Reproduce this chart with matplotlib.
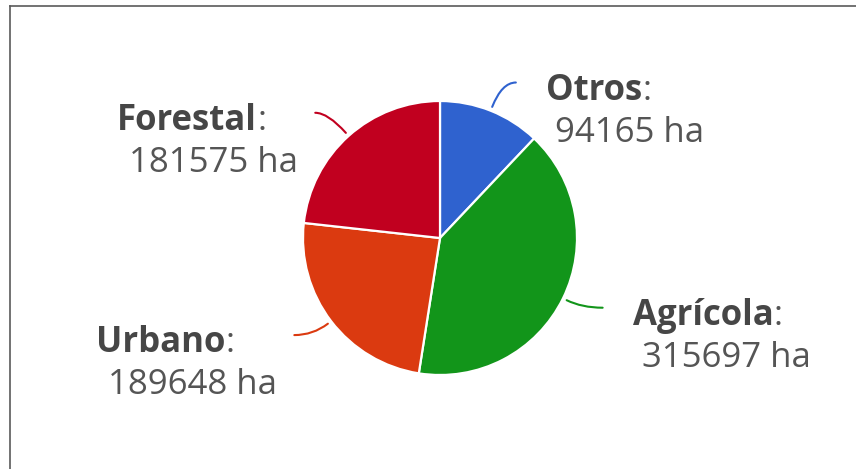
import numpy as np
import matplotlib
matplotlib.use("Agg")
import matplotlib.pyplot as plt
from matplotlib.lines import Line2D

# land use (ha)
labels = ["Otros", "Agrícola", "Urbano", "Forestal"]
values = [94165, 315697, 189648, 181575]
colors = ["#2f62cf", "#12951a", "#db3a10", "#c1001f"]

plt.rcParams["font.family"] = ["Open Sans", "DejaVu Sans"]
NAME_COLOR = "#464646"
VALUE_COLOR = "#555555"
FS = 25

fig = plt.figure(figsize=(8.56, 4.69), dpi=100)
W, H = 856, 469
cx, cy, r = 440, 238, 137
ax = fig.add_axes([(cx - r) / W, (H - cy - r) / H, 2 * r / W, 2 * r / H])

wedges, _ = ax.pie(values, colors=colors, startangle=90, counterclock=False,
                   radius=1, wedgeprops=dict(edgecolor="white", linewidth=1.6))
ax.set_xlim(-1, 1)
ax.set_ylim(-1, 1)
ax.set_aspect("equal")
ax.axis("off")

for w, lab, val, col in zip(wedges, labels, values, colors):
    mid = np.deg2rad((w.theta1 + w.theta2) / 2)
    x0, y0 = 1.03 * np.cos(mid), 1.03 * np.sin(mid)
    ex, ey = 1.2 * np.cos(mid), 1.2 * np.sin(mid)
    side = 1 if np.cos(mid) >= 0 else -1
    ax_end = ex + side * 0.11
    ay_end = ey + 0.02
    ax.annotate("", xy=(x0, y0), xytext=(ax_end, ay_end),
                arrowprops=dict(arrowstyle="-", color=col, lw=1.5,
                                shrinkA=0, shrinkB=0,
                                connectionstyle=f"angle3,angleA=0,angleB={np.rad2deg(mid)}"),
                annotation_clip=False)
    vtxt = f"{val} ha"
    if side > 0:
        name = ax.annotate(lab, xy=(ax_end, ay_end), xytext=(30, -17),
                           textcoords="offset pixels", ha="left", va="baseline",
                           fontsize=FS, fontweight="bold", color=NAME_COLOR,
                           annotation_clip=False)
        ax.annotate(vtxt, xy=(ax_end, ay_end), xytext=(39, -59),
                    textcoords="offset pixels", ha="left", va="baseline",
                    fontsize=FS, color=VALUE_COLOR, annotation_clip=False)
    else:
        vt = ax.annotate(vtxt, xy=(ax_end, ay_end), xytext=(-17, -59),
                         textcoords="offset pixels", ha="right", va="baseline",
                         fontsize=FS, color=VALUE_COLOR, annotation_clip=False)
        name = ax.annotate(lab, xy=(0, ay_end), xycoords=(vt, "data"),
                           xytext=(-12, -17), textcoords="offset pixels",
                           ha="left", va="baseline", fontsize=FS,
                           fontweight="bold", color=NAME_COLOR,
                           annotation_clip=False)
    ax.annotate(":", xy=(1, ay_end), xycoords=(name, "data"),
                xytext=(0, -17), textcoords="offset pixels",
                ha="left", va="baseline", fontsize=FS, color=VALUE_COLOR,
                annotation_clip=False)

# frame lines (top and left only)
fig.add_artist(Line2D([10 / W, 1], [1 - 6 / H, 1 - 6 / H], transform=fig.transFigure,
                      color="#5a5a5a", lw=1.2))
fig.add_artist(Line2D([10 / W, 10 / W], [0, 1 - 6 / H], transform=fig.transFigure,
                      color="#5a5a5a", lw=1.2))

fig.savefig("out.png", dpi=100, facecolor="white")
